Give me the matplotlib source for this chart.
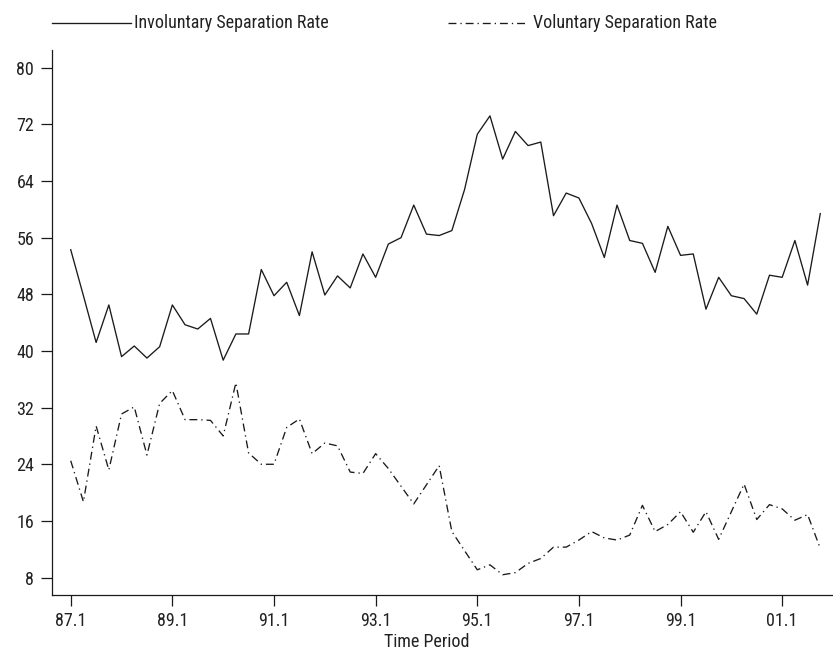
import matplotlib
matplotlib.use("Agg")
import matplotlib.pyplot as plt
from matplotlib.lines import Line2D
from matplotlib import font_manager

# ---- data (quarterly, 87.1 .. 01.4) ----
involuntary = [54.3, 47.8, 41.2, 46.5, 39.2, 40.7, 39.0, 40.6, 46.5, 43.7,
               43.1, 44.6, 38.7, 42.4, 42.4, 51.5, 47.8, 49.7, 45.0, 54.0,
               47.9, 50.6, 48.9, 53.7, 50.4, 55.1, 56.0, 60.6, 56.5, 56.3,
               57.0, 62.8, 70.6, 73.2, 67.1, 71.0, 69.0, 69.5, 59.1, 62.3,
               61.6, 58.0, 53.2, 60.6, 55.6, 55.2, 51.1, 57.6, 53.5, 53.7,
               45.9, 50.4, 47.8, 47.4, 45.2, 50.7, 50.4, 55.6, 49.3, 59.4]
voluntary = [24.5, 18.7, 29.4, 23.2, 31.1, 32.1, 25.3, 32.6, 34.4, 30.3,
             30.3, 30.2, 28.0, 35.5, 25.6, 24.0, 24.0, 29.2, 30.4, 25.5,
             27.0, 26.6, 22.9, 22.7, 25.5, 23.4, 20.9, 18.4, 21.1, 23.8,
             14.5, 11.8, 9.1, 9.8, 8.4, 8.7, 10.0, 10.7, 12.3, 12.3,
             13.3, 14.5, 13.6, 13.3, 14.0, 18.2, 14.5, 15.5, 17.3, 14.4,
             17.3, 13.4, 17.3, 21.2, 16.2, 18.3, 17.7, 16.1, 16.9, 12.1]
tick_labels = ["87.1", "89.1", "91.1", "93.1", "95.1", "97.1", "99.1", "01.1"]
y_ticks = [8, 16, 24, 32, 40, 48, 56, 64, 72, 80]
series_names = ["Involuntary Separation Rate", "Voluntary Separation Rate"]

# ---- font: prefer a condensed sans ----
entries = font_manager.fontManager.ttflist
names = {f.name for f in entries}
fam, stretch = "Roboto", "normal"
for cand in ["Liberation Sans Narrow", "Roboto Condensed", "Open Sans Condensed",
             "Noto Sans Condensed", "DejaVu Sans Condensed", "Noto Sans Display Condensed"]:
    if cand in names:
        fam = cand
        break
else:
    for f in entries:
        if f.name in ("Noto Sans", "Open Sans", "Roboto", "DejaVu Sans") and \
                str(f.stretch) in ("condensed", "semi-condensed", "extra-condensed", "500", "300", "400"):
            if str(f.stretch) in ("condensed", "semi-condensed", "extra-condensed", "300", "400"):
                fam, stretch = f.name, f.stretch
                break
plt.rcParams["font.family"] = [fam, "DejaVu Sans"]
plt.rcParams["font.stretch"] = stretch
FS = 13

W, H = 833, 653
fig = plt.figure(figsize=(W / 100, H / 100), dpi=100)
left, right, bottom, top = 52.3, 833, 595, 50
ax = fig.add_axes([left / W, 1 - bottom / H, (right - left) / W, (bottom - top) / H])

x = list(range(len(involuntary)))
dash = (0, (6, 3, 1, 3))
ax.plot(x, involuntary, color="#1a1a1a", lw=0.95)
ax.plot(x, voluntary, color="#1a1a1a", lw=0.95, linestyle=dash)

ax.set_xlim(-1.45, 60.0)
ax.set_ylim(5.54, 82.5)
ax.set_xticks(range(0, 8 * len(tick_labels), 8))
ax.set_xticklabels(tick_labels)
ax.set_yticks(y_ticks)
for s in ("top", "right"):
    ax.spines[s].set_visible(False)
for s in ("left", "bottom"):
    ax.spines[s].set_linewidth(0.9)
    ax.spines[s].set_color("#1a1a1a")
ax.tick_params(axis="both", direction="out", length=8, width=0.9,
               color="#1a1a1a", labelcolor="#222222", labelsize=FS)
ax.tick_params(axis="y", pad=5)
ax.tick_params(axis="x", pad=4)

fig.text(427 / W, 1 - 642 / H, "Time Period", ha="center", va="center",
         fontsize=FS, color="#222222")

# legend drawn in figure coordinates
ly = 1 - 23 / H
fig.add_artist(Line2D([52 / W, 131 / W], [ly, ly], transform=fig.transFigure,
                      color="#1a1a1a", lw=0.95))
fig.text(134 / W, ly, series_names[0], ha="left", va="center",
         fontsize=FS, color="#222222")
fig.add_artist(Line2D([448 / W, 527 / W], [ly, ly], transform=fig.transFigure,
                      color="#1a1a1a", lw=0.95, linestyle=dash))
fig.text(533 / W, ly, series_names[1], ha="left", va="center",
         fontsize=FS, color="#222222")

fig.savefig("out.png", dpi=100)
